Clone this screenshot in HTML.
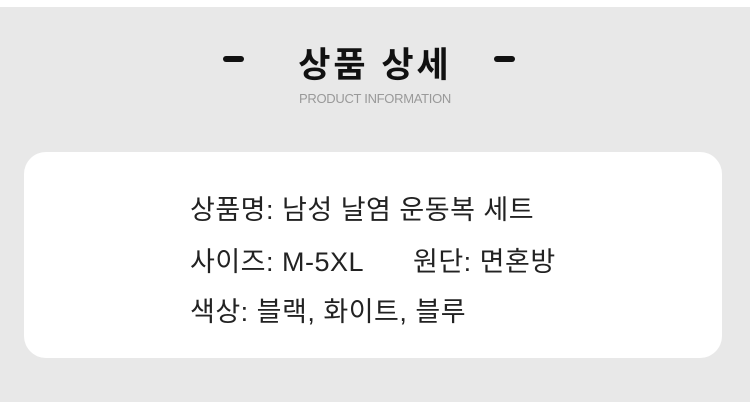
<!DOCTYPE html>
<html><head><meta charset="utf-8"><style>
body{margin:0;width:750px;height:416px;background:#fff;position:relative;overflow:hidden;font-family:"Liberation Sans","Noto Sans CJK KR",sans-serif}
.bg{position:absolute;left:0;top:7px;width:750px;height:395px;background:#e8e8e8}
.dash{position:absolute;top:56px;width:21px;height:6px;border-radius:3px;background:#111}
.title{position:absolute;left:0;width:750px;top:46px;text-align:center;font-size:35px;font-weight:bold;color:#111;line-height:40px;letter-spacing:3px}
.sub{position:absolute;left:0;width:750px;top:92px;text-align:center;font-size:13px;color:#999;line-height:14px;letter-spacing:-0.3px}
.card{position:absolute;left:24px;top:152px;width:698px;height:206px;background:#fff;border-radius:22px}
.t{position:absolute;font-size:27px;color:#222;line-height:30px;white-space:nowrap;letter-spacing:0.5px}
</style></head><body>
<div class="bg"></div>
<div class="dash" style="left:223px"></div>
<div class="dash" style="left:494px"></div>
<div class="title">상품 상세</div>
<div class="sub">PRODUCT INFORMATION</div>
<div class="card"></div>
<div class="t" style="left:190px;top:195px">상품명: 남성 날염 운동복 세트</div>
<div class="t" style="left:190px;top:247px">사이즈: M-5XL</div>
<div class="t" style="left:413px;top:247px">원단: 면혼방</div>
<div class="t" style="left:190px;top:297px">색상: 블랙, 화이트, 블루</div>
</body></html>
